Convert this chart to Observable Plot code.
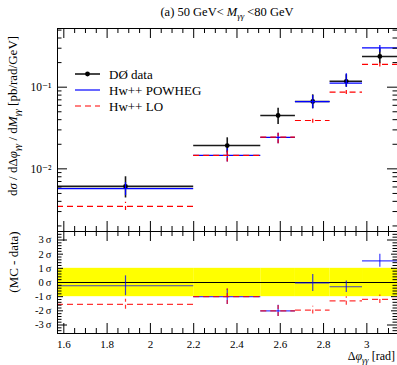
<!DOCTYPE html>
<html>
<head>
<meta charset="utf-8">
<script src="https://cdn.jsdelivr.net/npm/d3@7"></script>
<script src="https://cdn.jsdelivr.net/npm/@observablehq/plot@0.6"></script>
<style>
  html, body { margin: 0; padding: 0; background: white; }
  #wrap { position: relative; width: 397px; height: 365px; overflow: hidden; font-family: "Liberation Serif", "DejaVu Serif", serif; color: black; }
  #wrap > svg { position: absolute; left: 0; }
  .abs { position: absolute; white-space: nowrap; line-height: 1; }
  sub { font-size: 70%; vertical-align: -0.3em; }
</style>
</head>
<body>
<div id="wrap"></div>
<script>
// ---- data ----
const binLo = [Math.PI / 2, 2.2, 2.51, 2.67, 2.83, 2.98];
const binHi = [2.2, 2.51, 2.67, 2.83, 2.98, Math.PI];
const binMid = [1.885, 2.355, 2.59, 2.75, 2.905, 3.06];

const dataY  = [0.0061, 0.0193, 0.045, 0.0668, 0.118, 0.238];
const dataLo = [0.0044, 0.0157, 0.0349, 0.0544, 0.100, 0.193];
const dataHi = [0.0080, 0.0240, 0.0554, 0.0806, 0.142, 0.295];

const powY  = [0.00574, 0.01466, 0.0243, 0.0665, 0.112, 0.303];
const powLo = [0.0047, 0.0121, 0.0203, 0.0545, 0.100, 0.267];
const powHi = [0.0068, 0.0177, 0.0272, 0.079, 0.146, 0.324];

const loY  = [0.00347, 0.0146, 0.0245, 0.0391, 0.0868, 0.190];
const loLo = [0.0031, 0.0121, 0.0203, 0.0362, 0.0814, 0.177];
const loHi = [0.0039, 0.0177, 0.0272, 0.0418, 0.093, 0.203];

// (MC - data) in sigma
const powR    = [-0.23, -1.0, -2.0, -0.03, -0.3, 1.53];
const powRerr = [0.7, 0.55, 0.4, 0.6, 0.4, 0.46];
const loR     = [-1.54, -1.0, -2.0, -1.95, -1.3, -1.19];
const loRerr  = [0.35, 0.55, 0.4, 0.28, 0.3, 0.3];

const xTickLabels = [1.6, 1.8, 2, 2.2, 2.4, 2.6, 2.8, 3];
const yLogLabels = [0.01, 0.1];
const sigmaLabels = [-3, -2, -1, 0, 1, 2, 3];
const legendLabels = ["DØ data", "Hw++ POWHEG", "Hw++ LO"];

// ---- styling ----
const W = 397, ML = 57, MR = 0;
const innerW = W - ML - MR;
const xDomain = [Math.PI / 2, Math.PI];
const BLUE = "#0000ff", RED = "#ff0000", DATA = "#1a1a1a";
const idx = d3.range(binMid.length);

const xMinor = d3.range(1.6, 3.14, 0.05).map(v => +v.toFixed(2)).filter(v => !xTickLabels.includes(v));
const logMinor = [];
for (const e of [-3, -2, -1]) for (let m = 1; m <= 9; m++) {
  const v = m * Math.pow(10, e);
  if (v > 0.0017 && v < 0.53 && m !== 1) logMinor.push(v);
}
const sigMinor = d3.range(-36, 37, 2).map(v => v / 10).filter(v => !Number.isInteger(v));

function frameTicks(innerH, xMaj, xMin, yMaj, yMin, yBig) {
  const m = [];
  const mk = (arr, len, side) => {
    if (side === "bottom") m.push(Plot.ruleX(arr, {x: d => d, insetTop: innerH - len, stroke: "black"}));
    if (side === "top") m.push(Plot.ruleX(arr, {x: d => d, insetBottom: innerH - len, stroke: "black"}));
    if (side === "left") m.push(Plot.ruleY(arr, {y: d => d, insetRight: innerW - len, stroke: "black"}));
    if (side === "right") m.push(Plot.ruleY(arr, {y: d => d, insetLeft: innerW - len, stroke: "black"}));
  };
  for (const s of ["top", "bottom"]) { mk(xMaj, 10, s); mk(xMin, 5, s); }
  for (const s of ["left", "right"]) { mk(yMaj, yBig ? 6 : 10, s); mk(yMin, 4.5, s); if (yBig) mk(yBig, 10, s); }
  return m;
}

// ---- top panel ----
const topH = 232, topMT = 28, topMB = 1;
const topInnerH = topH - topMT - topMB;
const upperChart = Plot.plot({
  width: W, height: topH, marginTop: topMT, marginBottom: topMB, marginLeft: ML, marginRight: MR,
  style: {fontFamily: "Liberation Serif, DejaVu Serif, serif", fontSize: "11px", background: "none", overflow: "visible"},
  x: {domain: xDomain, axis: null},
  y: {type: "log", domain: [0.00171, 0.523], axis: null},
  marks: [
    Plot.ruleY(idx, {y: i => dataY[i], x1: i => binLo[i], x2: i => binHi[i], stroke: DATA, strokeWidth: 1.6}),
    Plot.ruleX(idx, {x: i => binMid[i], y1: i => dataLo[i], y2: i => dataHi[i], stroke: DATA, strokeWidth: 1.6}),
    Plot.dot(idx, {x: i => binMid[i], y: i => dataY[i], r: 2.4, fill: "black", stroke: "none"}),
    Plot.ruleY(idx, {y: i => powY[i], x1: i => binLo[i], x2: i => binHi[i], stroke: BLUE, strokeWidth: 1.2}),
    Plot.ruleX(idx, {x: i => binMid[i], y1: i => powLo[i], y2: i => powHi[i], stroke: BLUE, strokeWidth: 1.2}),
    Plot.ruleY(idx, {y: i => loY[i], x1: i => binLo[i], x2: i => binHi[i], stroke: RED, strokeWidth: 1.2, strokeDasharray: "6,4"}),
    Plot.ruleX(idx, {x: i => binMid[i], y1: i => loLo[i], y2: i => loHi[i], stroke: RED, strokeWidth: 1.2, strokeDasharray: "4,3"}),
    ...frameTicks(topInnerH, xTickLabels, xMinor, yLogLabels, logMinor, null),
    Plot.axisY(yLogLabels, {tickSize: 0, tickPadding: 6, label: null, fontSize: 11.5,
      tickFormat: d => d === 0.1 ? "10⁻¹" : "10⁻²"}),
    Plot.frame({stroke: "black", strokeWidth: 1})
  ]
});
upperChart.style.top = "0px";

// ---- bottom panel ----
const botH = 135, botMT = 1, botMB = 32;
const botInnerH = botH - botMT - botMB;
const lowerChart = Plot.plot({
  width: W, height: botH, marginTop: botMT, marginBottom: botMB, marginLeft: ML, marginRight: MR,
  style: {fontFamily: "Liberation Serif, DejaVu Serif, serif", fontSize: "11px", background: "none", overflow: "visible"},
  x: {domain: xDomain, axis: null},
  y: {domain: [-3.6, 3.6], axis: null},
  marks: [
    Plot.rect(idx, {x1: i => binLo[i], x2: i => binHi[i], y1: -1, y2: 1, fill: "#ffff00"}),
    Plot.ruleY([0], {stroke: "black", strokeWidth: 1.2}),
    Plot.ruleY(idx, {y: i => powR[i], x1: i => binLo[i], x2: i => binHi[i], stroke: BLUE, strokeWidth: 1.2, strokeOpacity: 0.75}),
    Plot.ruleX(idx, {x: i => binMid[i], y1: i => powR[i] - powRerr[i], y2: i => powR[i] + powRerr[i], stroke: BLUE, strokeWidth: 1.2, strokeOpacity: 0.75}),
    Plot.ruleY(idx, {y: i => loR[i], x1: i => binLo[i], x2: i => binHi[i], stroke: RED, strokeWidth: 1.2, strokeDasharray: "6,4", strokeOpacity: 0.8}),
    Plot.ruleX(idx, {x: i => binMid[i], y1: i => loR[i] - loRerr[i], y2: i => loR[i] + loRerr[i], stroke: RED, strokeWidth: 1.2, strokeDasharray: "4,3", strokeOpacity: 0.8}),
    ...frameTicks(botInnerH, xTickLabels, xMinor, sigmaLabels.filter(d => Math.abs(d) !== 3), sigMinor, [-3, 3]),
    Plot.axisY(sigmaLabels, {tickSize: 0, tickPadding: 6, label: null, fontSize: 10.5,
      tickFormat: d => `${d}\u2009σ`}),
    Plot.axisX(xTickLabels, {tickSize: 0, tickPadding: 7, label: null, fontSize: 11,
      tickFormat: d => String(d)}),
    Plot.frame({stroke: "black", strokeWidth: 1})
  ]
});
lowerChart.style.top = "230px";

const wrap = document.getElementById("wrap");
wrap.appendChild(upperChart);
wrap.appendChild(lowerChart);

// ---- texts ----
function addText(html, css) {
  const el = document.createElement("div");
  el.className = "abs";
  el.innerHTML = html;
  Object.assign(el.style, css);
  wrap.appendChild(el);
  return el;
}
addText("(a) 50 GeV&lt; <i>M</i><sub><i>γγ</i></sub> &lt;80 GeV",
  {fontSize: "12.5px", top: "6px", left: (ML + (W - ML) / 2) + "px", transform: "translateX(-50%)"});
addText("Δ<i>φ</i><sub><i>γγ</i></sub> [rad]", {fontSize: "12px", top: "350px", right: "2px"});
addText("d<i>σ</i> / dΔ<i>φ</i><sub><i>γγ</i></sub> / d<i>M</i><sub><i>γγ</i></sub> [pb/rad/GeV]",
  {fontSize: "13px", left: "14px", top: "116px", transform: "translate(-50%,-50%) rotate(-90deg)"});
addText("(MC - data)",
  {fontSize: "13px", left: "13px", top: "262px", transform: "translate(-50%,-50%) rotate(-90deg)"});

// legend
const legStyles = [
  {stroke: DATA, w: 1.6, dash: null, dot: true},
  {stroke: BLUE, w: 1.2, dash: null, dot: false},
  {stroke: RED, w: 1.2, dash: "6,4", dot: false}
];
const legTops = [74, 90, 106];
legendLabels.forEach((lab, i) => {
  const s = legStyles[i];
  const row = addText("", {left: "75px", top: (legTops[i] - 7) + "px", height: "14px", display: "flex", alignItems: "center", fontSize: "13px"});
  const svg = d3.create("svg").attr("width", 26).attr("height", 14).style("flex", "none");
  svg.append("line").attr("x1", 0).attr("x2", 25).attr("y1", 7).attr("y2", 7)
    .attr("stroke", s.stroke).attr("stroke-width", s.w).attr("stroke-dasharray", s.dash);
  if (s.dot) svg.append("circle").attr("cx", 12.5).attr("cy", 7).attr("r", 2.4).attr("fill", "black");
  row.appendChild(svg.node());
  const t = document.createElement("span");
  t.textContent = lab;
  t.style.marginLeft = "8px";
  row.appendChild(t);
});
</script>
</body>
</html>
